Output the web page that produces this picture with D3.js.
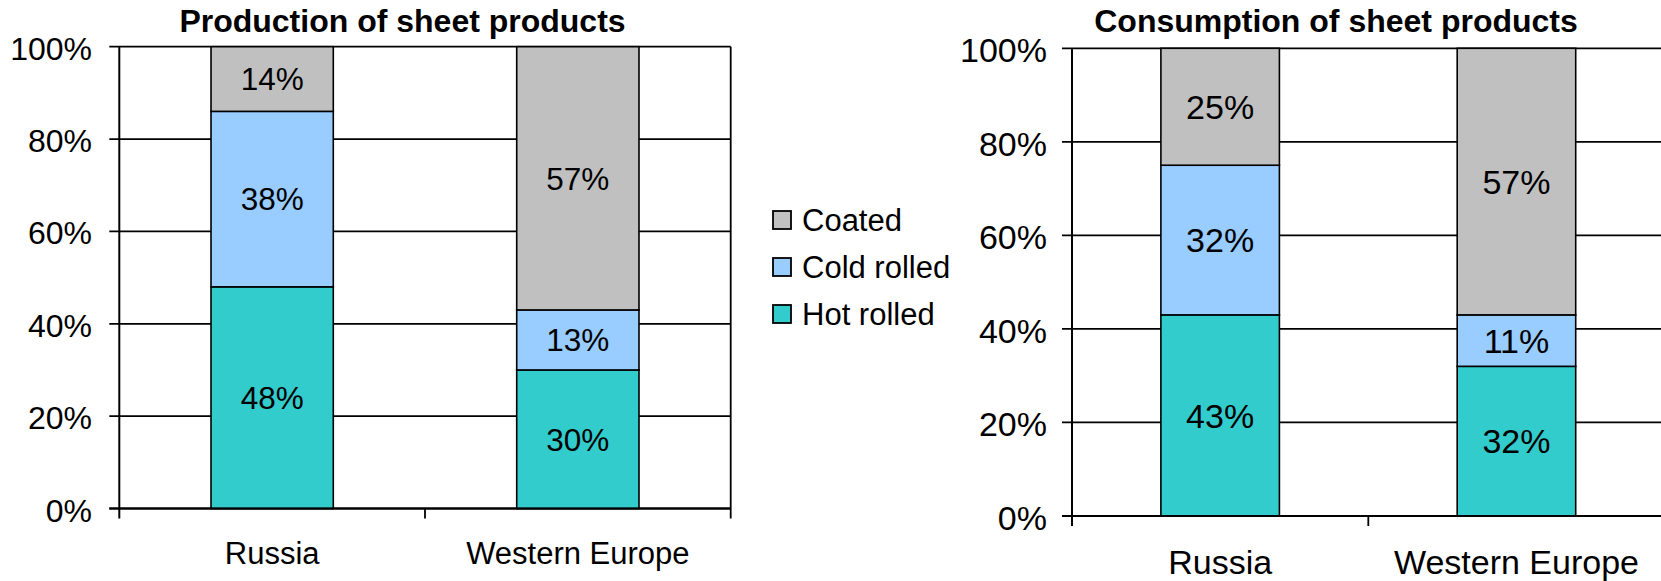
<!DOCTYPE html>
<html>
<head>
<meta charset="utf-8">
<script src="https://cdn.jsdelivr.net/npm/d3@7"></script>
<style>
  html, body { margin: 0; padding: 0; background: #ffffff; }
  svg { display: block; font-family: Arial, "Liberation Sans", sans-serif; }
</style>
</head>
<body>
<svg id="chart" width="1661" height="581"></svg>
<script>
// Sheet product mix, share of each product type (%)
const categories = ["Russia", "Western Europe"];
const seriesNames = ["Hot rolled", "Cold rolled", "Coated"];
const legendOrder = ["Coated", "Cold rolled", "Hot rolled"];

const productionHotRolled  = [48, 30];
const productionColdRolled = [38, 13];
const productionCoated     = [14, 57];

const consumptionHotRolled  = [43, 32];
const consumptionColdRolled = [32, 11];
const consumptionCoated     = [25, 57];

const yTickValues = [0, 20, 40, 60, 80, 100];
const titles = ["Production of sheet products", "Consumption of sheet products"];

const colors = { "Hot rolled": "#33CCCC", "Cold rolled": "#99CCFF", "Coated": "#C0C0C0" };

function rows(hot, cold, coated) {
  return categories.map((c, i) => ({
    category: c, "Hot rolled": hot[i], "Cold rolled": cold[i], "Coated": coated[i]
  }));
}

const panels = [
  {
    title: titles[0], data: rows(productionHotRolled, productionColdRolled, productionCoated),
    x0: 119.3, x1: 730.7, yTop: 46.7, yBot: 508.5, border: true,
    titleX: 402.5, titleY: 32, titleSize: 32,
    tickSize: 32, tickRight: 92, dataSize: 31.5, catSize: 31, catY: 564
  },
  {
    title: titles[1], data: rows(consumptionHotRolled, consumptionColdRolled, consumptionCoated),
    x0: 1072, x1: 1664.6, yTop: 48.3, yBot: 516, border: false,
    titleX: 1336, titleY: 32, titleSize: 32,
    tickSize: 34, tickRight: 1047, dataSize: 34, catSize: 34, catY: 574
  }
];

const svg = d3.select("#chart");
const stack = d3.stack().keys(seriesNames);

function label(g, text, x, y, size, anchor, weight) {
  return g.append("text")
    .attr("x", x).attr("y", y)
    .attr("text-anchor", anchor)
    .attr("font-size", size)
    .attr("font-weight", weight || "normal")
    .attr("fill", "#000")
    .text(text);
}

panels.forEach(p => {
  const g = svg.append("g");
  const x = d3.scaleBand().domain(categories).range([p.x0, p.x1])
    .paddingInner(0.6).paddingOuter(0.3);
  const y = d3.scaleLinear().domain([0, 100]).range([p.yBot, p.yTop]);
  const step = x.step();

  // horizontal gridlines with short ticks left of the value axis
  g.selectAll("line.grid").data(yTickValues).join("line")
    .attr("class", "grid")
    .attr("x1", p.x0 - 10).attr("x2", p.x1)
    .attr("y1", d => y(d)).attr("y2", d => y(d))
    .attr("stroke", "#000").attr("stroke-width", 1.8);

  // value axis tick labels
  yTickValues.forEach(v => {
    label(g, v + "%", p.tickRight, y(v) + 0.36 * p.tickSize + 1.5, p.tickSize, "end");
  });

  // value axis line
  g.append("line")
    .attr("x1", p.x0).attr("x2", p.x0)
    .attr("y1", p.yTop).attr("y2", p.yBot + 10)
    .attr("stroke", "#000").attr("stroke-width", 2);

  // right edge of the plot area
  if (p.border) {
    g.append("line")
      .attr("x1", p.x1).attr("x2", p.x1)
      .attr("y1", p.yTop).attr("y2", p.yBot + 10)
      .attr("stroke", "#000").attr("stroke-width", 1.8);
  }

  // category boundary ticks
  const bounds = d3.range(1, categories.length + (p.border ? 0 : 1)).map(i => p.x0 + i * step);
  g.selectAll("line.ctick").data(bounds).join("line")
    .attr("class", "ctick")
    .attr("x1", d => d).attr("x2", d => d)
    .attr("y1", p.yBot).attr("y2", p.yBot + 10)
    .attr("stroke", "#000").attr("stroke-width", 1.8);

  // stacked bars
  const layers = stack(p.data);
  layers.forEach(layer => {
    const key = layer.key;
    g.selectAll(null).data(layer).join("rect")
      .attr("x", d => x(d.data.category))
      .attr("width", x.bandwidth())
      .attr("y", d => y(d[1]))
      .attr("height", d => y(d[0]) - y(d[1]))
      .attr("fill", colors[key])
      .attr("stroke", "#000").attr("stroke-width", 1.6);
  });

  // segment value labels
  layers.forEach(layer => {
    layer.forEach(d => {
      const cx = x(d.data.category) + x.bandwidth() / 2;
      const cy = (y(d[0]) + y(d[1])) / 2;
      label(g, (d[1] - d[0]) + "%", cx, cy + 0.36 * p.dataSize, p.dataSize, "middle");
    });
  });

  // baseline drawn over the bars
  g.append("line")
    .attr("x1", p.x0 - 10).attr("x2", p.x1)
    .attr("y1", p.yBot).attr("y2", p.yBot)
    .attr("stroke", "#000").attr("stroke-width", 2);

  // category labels
  categories.forEach(c => {
    label(g, c, x(c) + x.bandwidth() / 2, p.catY, p.catSize, "middle");
  });

  // title
  label(g, p.title, p.titleX, p.titleY, p.titleSize, "middle", "bold");
});

// legend for the production panel
const legend = svg.append("g");
legendOrder.forEach((name, i) => {
  const cy = 220 + i * 47;
  legend.append("rect")
    .attr("x", 773).attr("y", cy - 9).attr("width", 18).attr("height", 18)
    .attr("fill", colors[name]).attr("stroke", "#000").attr("stroke-width", 1.8);
  label(legend, name, 802, cy + 11, 31, "start");
});
</script>
</body>
</html>
